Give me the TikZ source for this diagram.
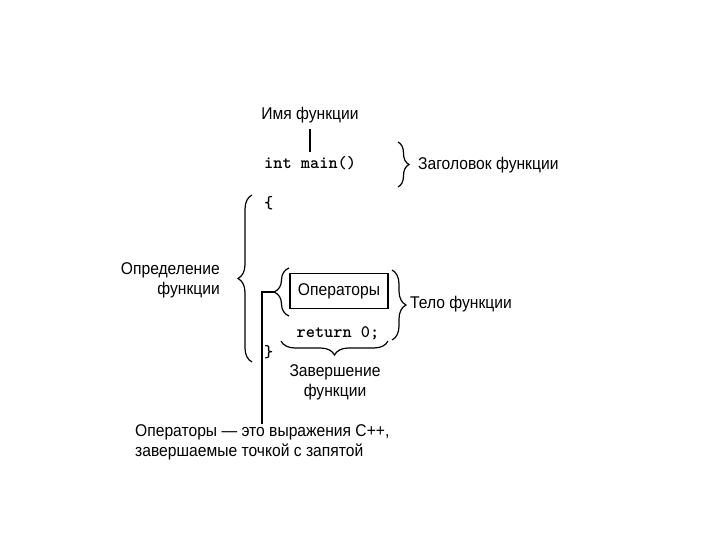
\documentclass[tikz,border=0pt]{standalone}
\usepackage{fontspec}
\setmainfont[FakeStretch=0.92]{Liberation Sans}
\usetikzlibrary{decorations.pathreplacing}
\begin{document}
\begin{tikzpicture}[x=1pt,y=-1pt,
  lbl/.style={inner sep=0pt, font=\fontsize{17}{20}\selectfont},
  code/.style={inner sep=0pt, font=\ttfamily\bfseries\fontsize{17.5}{18}\selectfont},
  brc/.style={draw, line width=1.2pt, decorate, decoration={brace, amplitude=#1}},
  conn/.style={draw, line width=1.2pt}]
\useasboundingbox (0,0) rectangle (720,540);
% texts
\node[lbl] (imya) at (310,115) {Имя функции};
\node[code, anchor=west] (intmain) at (264,163) {int main()};
\node[lbl, anchor=west] (zag) at (418,165) {Заголовок функции};
\node[code, anchor=west] (lbr) at (264,203) {\{};
\node[lbl, align=right, anchor=east] (opr) at (220,280) {Определение\\функции};
\node[draw, line width=1.2pt, minimum width=98pt, minimum height=35pt, inner sep=0pt, font=\fontsize{17}{20}\selectfont] (ops) at (339,291) {Операторы};
\node[lbl, anchor=west] (telo) at (410,304) {Тело функции};
\node[code] (ret) at (338,333) {return 0;};
\node[code, anchor=west] (rbr) at (264,352) {\}};
\node[lbl, align=center] (zav) at (335,382) {Завершение\\функции};
\node[lbl, align=left, anchor=north west] (opsnote) at (135,424) {Операторы — это выражения С++,\\завершаемые точкой с запятой};
% braces
\coordinate (hb1) at (398,142); \coordinate (hb2) at (398,187);
\draw[brc=11] (hb1) -- (hb2);
\coordinate (db1) at (252,362); \coordinate (db2) at (252,195);
\draw[brc=14] (db1) -- (db2);
\coordinate (sb1) at (289,316); \coordinate (sb2) at (289,268);
\draw[brc=15] (sb1) -- (sb2);
\coordinate (tb1) at (392,270); \coordinate (tb2) at (392,340);
\draw[brc=14] (tb1) -- (tb2);
\coordinate (rb1) at (388,341); \coordinate (rb2) at (281,341);
\draw[brc=14] (rb1) -- (rb2);
% connectors
\coordinate (stip) at (274,292);
\draw[conn] ([yshift=-6pt]imya.south) -- ([yshift=4pt]imya.south |- intmain.north);
\draw[conn] (stip) -| ([xshift=127pt]opsnote.north west);
\end{tikzpicture}
\end{document}
